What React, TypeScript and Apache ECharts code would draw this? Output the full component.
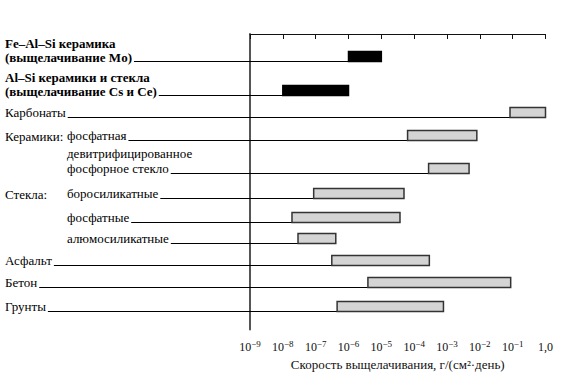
import React, { useEffect, useRef } from "react";
import * as echarts from "echarts";

// ---------- data ----------
const rowLabels = [
  "Fe–Al–Si керамика\n(выщелачивание Mo)",
  "Al–Si керамики и стекла\n(выщелачивание Cs и Ce)",
  "Карбонаты",
  "фосфатная",
  "девитрифицированное\nфосфорное стекло",
  "боросиликатные",
  "фосфатные",
  "алюмосиликатные",
  "Асфальт",
  "Бетон",
  "Грунты",
];
const groupLabels: (string | null)[] = [null, null, null, "Керамики:", null, "Стекла:", null, null, null, null, null];
// leach rate ranges, g/(cm²·day)
const lowRates = [1e-6, 1e-8, 0.083, 6.3e-5, 2.75e-4, 8.7e-8, 1.9e-8, 2.9e-8, 3.1e-7, 3.9e-6, 4.5e-7];
const highRates = [1e-5, 1e-6, 1.0, 8.1e-3, 4.7e-3, 4.9e-5, 3.7e-5, 4.1e-7, 2.9e-4, 8.7e-2, 7.8e-4];
const highlighted = [true, true, false, false, false, false, false, false, false, false, false];
const tickExponents = [-9, -8, -7, -6, -5, -4, -3, -2, -1, 0];
const axisTitle = "Скорость выщелачивания, г/(см²·день)";

// ---------- layout ----------
const ROW_LEVELS = [1.227, 2.8, 3.77, 4.82, 6.36, 7.47, 8.6, 9.56, 10.56, 11.57, 12.67];
const LEVEL_MAX = 13.5;
const SUB_ROW = [false, false, false, true, true, true, true, true, false, false, false];
const FONT = "Liberation Serif, serif";

let measureCtx: CanvasRenderingContext2D | null = null;
function measure(text: string, bold: boolean): number {
  if (!measureCtx) measureCtx = document.createElement("canvas").getContext("2d");
  if (!measureCtx) return text.length * 6;
  measureCtx.font = `${bold ? "bold " : ""}13px ${FONT}`;
  return measureCtx.measureText(text).width;
}

export default function App() {
  const ref = useRef<HTMLDivElement>(null);
  useEffect(() => {
    if (!ref.current) return;
    const chart = echarts.init(ref.current, null, { renderer: "svg" });
    const data = rowLabels.map((_, i) => [lowRates[i], highRates[i], ROW_LEVELS[i]]);
    chart.setOption({
      animation: false,
      backgroundColor: "#fff",
      textStyle: { fontFamily: FONT },
      grid: { left: 250, right: 18.5, top: 34, bottom: 45, containLabel: false },
      xAxis: {
        type: "log",
        logBase: 10,
        min: 1e-9,
        max: 1,
        splitNumber: 9,
        axisLine: { show: true, lineStyle: { color: "#111", width: 1 } },
        axisTick: { show: true, length: 5, lineStyle: { color: "#111", width: 1 } },
        splitLine: { show: false },
        axisLabel: {
          margin: 9.5,
          color: "#111",
          fontFamily: FONT,
          formatter: (v: number) => {
            const e = Math.round(Math.log10(v));
            const k = tickExponents.indexOf(e);
            if (k < 0) return "";
            return tickExponents[k] === 0 ? "{b|1,0}" : `{b|10}{s|−${-tickExponents[k]}}`;
          },
          rich: {
            b: { fontFamily: FONT, fontSize: 12, color: "#111", lineHeight: 14, verticalAlign: "bottom" },
            s: { fontFamily: FONT, fontSize: 9, color: "#111", lineHeight: 8, verticalAlign: "top" },
          },
        },
        name: axisTitle,
        nameLocation: "middle",
        nameGap: 22,
        nameTextStyle: { fontFamily: FONT, fontSize: 13, color: "#111" },
      },
      yAxis: {
        type: "value",
        min: 0,
        max: LEVEL_MAX,
        inverse: true,
        axisLine: { show: true, lineStyle: { color: "#555", width: 2 } },
        axisTick: { show: false },
        axisLabel: { show: false },
        splitLine: { show: false },
      },
      series: [
        {
          type: "custom",
          clip: false,
          encode: { x: [0, 1], y: 2 },
          data,
          renderItem: (params: any, api: any) => {
            const i = params.dataIndex;
            const p0 = api.coord([api.value(0), api.value(2)]);
            const p1 = api.coord([api.value(1), api.value(2)]);
            const y = Math.round(p0[1]) + 0.5;
            const bold = highlighted[i];
            const label = rowLabels[i];
            const lines = label.split("\n");
            const lx = SUB_ROW[i] ? 67 : 5;
            const lw = measure(lines[lines.length - 1], bold);
            const textStyle = {
              fontFamily: FONT,
              fontSize: 13,
              fontWeight: bold ? "bold" : "normal",
              fill: "#000",
              align: "left",
              verticalAlign: "bottom",
            };
            const children: any[] = [
              {
                type: "text",
                style: { ...textStyle, text: label, x: lx, y: y + 2.5, lineHeight: bold ? 14 : 15 },
              },
              {
                type: "line",
                shape: { x1: lx + lw + 2, y1: y, x2: p0[0], y2: y },
                style: { stroke: "#000", lineWidth: 1 },
              },
              {
                type: "rect",
                shape: { x: p0[0], y: y - 10, width: p1[0] - p0[0], height: 10 },
                style: {
                  fill: bold ? "#000" : "#d4d4d4",
                  stroke: bold ? "#000" : "#333",
                  lineWidth: 1.5,
                },
              },
            ];
            if (groupLabels[i]) {
              children.push({
                type: "text",
                style: { ...textStyle, text: groupLabels[i], x: 5, y: y + 2.5 },
              });
            }
            return { type: "group", children };
          },
        },
      ],
    });
    return () => chart.dispose();
  }, []);
  return (
    <div
      ref={ref}
      style={{ position: "fixed", left: 0, top: 0, width: 564, height: 376, background: "#fff" }}
    />
  );
}
